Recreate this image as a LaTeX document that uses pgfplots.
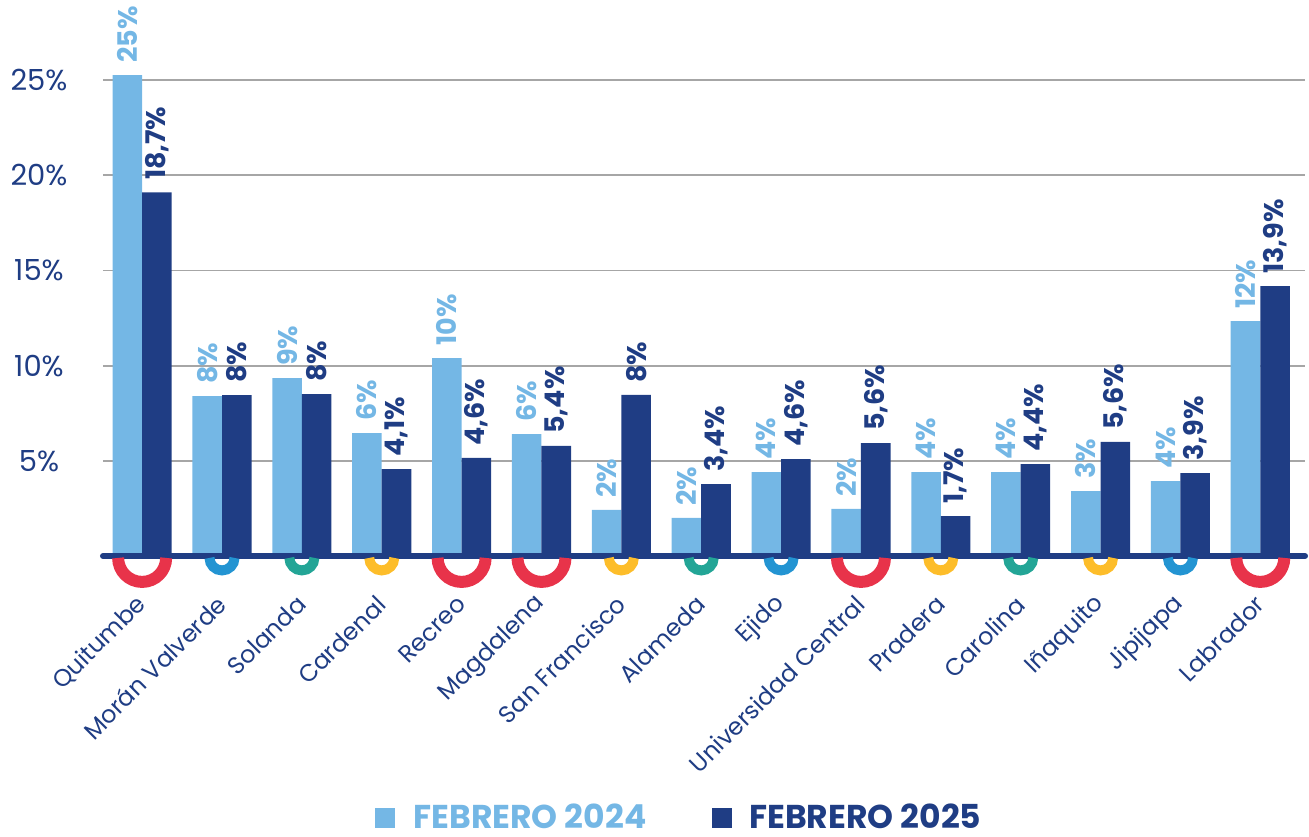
\documentclass[border=0pt]{standalone}
\usepackage{fontspec}
\setmainfont{Poppins}
\usepackage{graphicx}
\usepackage{pgfplots}
\pgfplotsset{compat=1.18}
\definecolor{lb}{HTML}{74B7E5}
\definecolor{db}{HTML}{1F3D84}
\definecolor{rred}{HTML}{E8334A}
\definecolor{rblue}{HTML}{2394D2}
\definecolor{rteal}{HTML}{23A596}
\definecolor{ryel}{HTML}{FDBD2A}
% half ring hanging under the axis line
\pgfdeclareplotmark{halfring}{%
  \pgfpathmoveto{\pgfqpoint{\pgfplotmarksize}{0pt}}%
  \pgfpatharc{0}{-180}{\pgfplotmarksize}%
  \pgfusepathqstroke}
\begin{document}
\begin{tikzpicture}
\begin{axis}[
  name=ax, scale only axis, width=601pt, height=257pt,
  xmin=-0.49, xmax=14.56, ymin=0, ymax=27, clip=false,
  axis lines*=left, axis line style={draw=none}, major tick length=0pt,
  ytick={5,10,15,20,25}, yticklabels={5\%,10\%,15\%,20\%,25\%},
  ymajorgrids, grid style={line width=0.9pt, draw=black!35},
  yticklabel style={font=\fontsize{14.5}{14.5}\selectfont, text=db, anchor=center, xshift=-32pt},
  xtick={0,...,14},
  xticklabels={Quitumbe, Morán Valverde, Solanda, Cardenal, Recreo, Magdalena,
    San Francisco, Alameda, Ejido, Universidad Central, Pradera, Carolina,
    Iñaquito, Jipijapa, Labrador},
  xticklabel style={font=\fontsize{12}{12}\selectfont, text=db, rotate=45, anchor=east, inner sep=0pt},
  xticklabel shift=22pt,
  legend columns=2,
  legend style={draw=none, fill=none, at={(0.48,-0.51)}, anchor=center,
    font=\fontsize{16.5}{16.5}\bfseries, cells={anchor=west},
    /tikz/every even column/.append style={column sep=31pt}},
  vals/.style={ybar, bar width=0.37, draw=none,
    nodes near coords={\rotatebox{90}{\pgfplotspointmeta}},
    point meta=explicit symbolic,
    nodes near coords style={font=\fontsize{13.5}{13.5}\bfseries,
      anchor=south, inner xsep=0pt, inner ysep=6pt}},
]
\addlegendimage{legend image code/.code={\fill[lb] (0pt,-4.75pt) rectangle (9.5pt,4.75pt); \path (17pt,0pt);}}
\addlegendentry{\textcolor{lb}{FEBRERO 2024}}
\addlegendimage{legend image code/.code={\fill[db] (0pt,-4.75pt) rectangle (9.5pt,4.75pt); \path (16pt,0pt);}}
\addlegendentry{\textcolor{db}{FEBRERO 2025}}

% rings under the axis
\addplot[only marks, mark=halfring, mark size=12pt, mark options={draw=rred, line width=6pt}]
  coordinates {(0,-0.1) (4,-0.1) (5,-0.1) (9,-0.1) (14,-0.1)};
\addplot[only marks, mark=halfring, mark size=6.25pt, mark options={draw=rblue, line width=5pt}]
  coordinates {(1,-0.1) (8,-0.1) (13,-0.1)};
\addplot[only marks, mark=halfring, mark size=6.25pt, mark options={draw=rteal, line width=5pt}]
  coordinates {(2,-0.1) (7,-0.1) (11,-0.1)};
\addplot[only marks, mark=halfring, mark size=6.25pt, mark options={draw=ryel, line width=5pt}]
  coordinates {(3,-0.1) (6,-0.1) (10,-0.1) (12,-0.1)};

% Febrero 2024
\addplot[vals, bar shift=-0.185, fill=lb, nodes near coords style={text=lb, xshift=-7.4pt}] coordinates {
  (0,25.26)[25\%] (1,8.40)[8\%] (2,9.35)[9\%] (3,6.46)[6\%] (4,10.40)[10\%]
  (5,6.40)[6\%] (6,2.42)[2\%] (7,2.00)[2\%] (8,4.41)[4\%] (9,2.47)[2\%]
  (10,4.41)[4\%] (11,4.41)[4\%] (12,3.41)[3\%] (13,3.94)[4\%] (14,12.34)[12\%]
};
% Febrero 2025
\addplot[vals, bar shift=0.185, fill=db, nodes near coords style={text=db, xshift=7.4pt}] coordinates {
  (0,19.10)[18,7\%] (1,8.45)[8\%] (2,8.50)[8\%] (3,4.57)[4,1\%] (4,5.15)[4,6\%]
  (5,5.78)[5,4\%] (6,8.46)[8\%] (7,3.78)[3,4\%] (8,5.09)[4,6\%] (9,5.93)[5,6\%]
  (10,2.10)[1,7\%] (11,4.83)[4,4\%] (12,5.99)[5,6\%] (13,4.36)[3,9\%] (14,14.18)[13,9\%]
};
% baseline
\addplot[db, line width=3pt, line cap=round] coordinates {(-0.49,0) (14.56,0)};
\end{axis}
\pgfresetboundingbox
\path ([shift={(-51.5pt,-140pt)}]ax.south west) rectangle ([shift={(603pt,278pt)}]ax.south west);
\end{tikzpicture}
\end{document}
